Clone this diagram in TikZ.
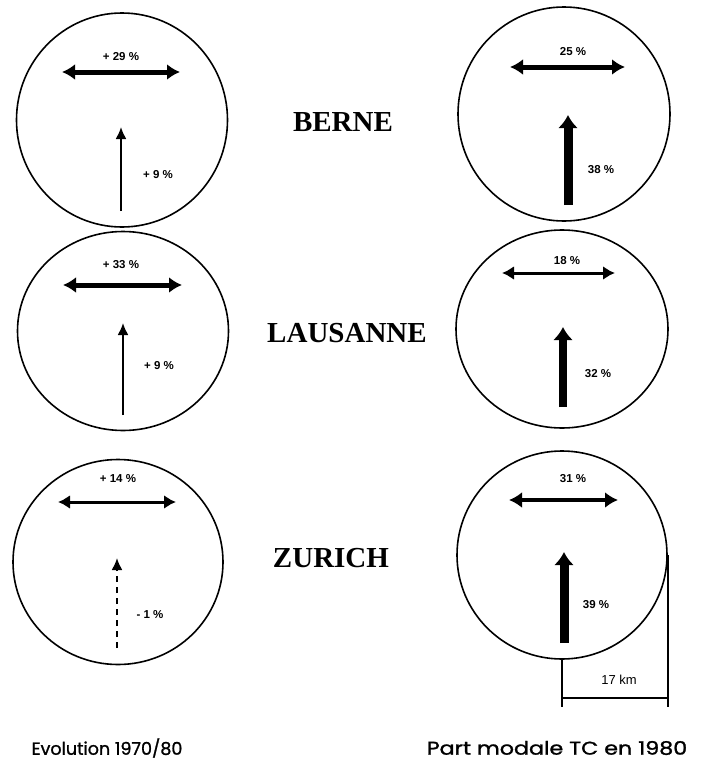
\documentclass[tikz,border=0pt]{standalone}
\usepackage{fontspec}
\setmainfont{Liberation Serif}
\newfontfamily\labfont{Liberation Sans}
\newfontfamily\footfont[FakeBold=1.2]{Poppins}
\usetikzlibrary{arrows.meta,shapes.geometric}
\tikzset{
  ring/.style={draw, ellipse, line width=1.6pt, inner sep=0pt},
  city/.style={font=\fontsize{29}{29}\selectfont\bfseries, inner sep=0pt},
  pct/.style={font=\labfont\bfseries\fontsize{11.5}{11.5}\selectfont, inner sep=0pt},
  foot/.style={font=\footfont\fontsize{17.5}{17.5}\selectfont, inner sep=0pt},
  hthick/.style={line width=5pt, {Latex[length=13pt,width=16pt]}-{Latex[length=13pt,width=16pt]}},
  hmid/.style={line width=3pt, {Latex[length=12pt,width=14pt]}-{Latex[length=12pt,width=14pt]}},
  vthin/.style={line width=2pt, -{Latex[length=12pt,width=11pt]}},
  vfat/.style={line width=9pt, -{Latex[length=13pt,width=20pt]}},
  bar/.style={line width=1.4pt}
}
\begin{document}
\begin{tikzpicture}[x=1pt,y=-1pt]
\useasboundingbox (0,0) rectangle (701,771);
% circles
\node[ring, minimum width=211pt, minimum height=214pt] (c1) at (122,120) {};
\node[ring, minimum width=211pt, minimum height=199pt] (c2) at (123,331) {};
\node[ring, minimum width=210pt, minimum height=205pt] (c3) at (118,562) {};
\node[ring, minimum width=212pt, minimum height=214pt] (c4) at (564,114) {};
\node[ring, minimum width=212pt, minimum height=198pt] (c5) at (562,329) {};
\node[ring, minimum width=210pt, minimum height=208pt] (c6) at (562,555) {};
% city names
\node[city] (berne) at (343,122) {BERNE};
\node[city] (laus) at (347,333) {LAUSANNE};
\node[city] (zur) at (331,558) {ZURICH};
% BERNE left
\coordinate (a1l) at (62,72); \coordinate (a1r) at (180,72);
\draw[hthick] (a1l) -- (a1r);
\node[pct] (t1h) at (121,57) {+ 29 \%};
\coordinate (v1b) at (121,211); \coordinate (v1t) at (121,127);
\draw[vthin] (v1b) -- (v1t);
\node[pct] (t1v) at (158,175) {+ 9 \%};
% BERNE right
\coordinate (a4l) at (510,67); \coordinate (a4r) at (625,67);
\draw[hthick] (a4l) -- (a4r);
\node[pct] (t4h) at (573,52) {25 \%};
\coordinate (v4b) at (568,205); \coordinate (v4t) at (568,115);
\draw[vfat] (v4b) -- (v4t);
\node[pct] (t4v) at (601,170) {38 \%};
% LAUSANNE left
\coordinate (a2l) at (63,285); \coordinate (a2r) at (182,285);
\draw[hthick] (a2l) -- (a2r);
\node[pct] (t2h) at (121,265) {+ 33 \%};
\coordinate (v2b) at (123,415); \coordinate (v2t) at (123,323);
\draw[vthin] (v2b) -- (v2t);
\node[pct] (t2v) at (159,366) {+ 9 \%};
% LAUSANNE right
\coordinate (a5l) at (502,273); \coordinate (a5r) at (615,273);
\draw[hmid] (a5l) -- (a5r);
\node[pct] (t5h) at (567,261) {18 \%};
\coordinate (v5b) at (563,407); \coordinate (v5t) at (563,327);
\draw[vfat, line width=8pt] (v5b) -- (v5t);
\node[pct] (t5v) at (598,374) {32 \%};
% ZURICH left
\coordinate (a3l) at (58,502); \coordinate (a3r) at (176,502);
\draw[hmid] (a3l) -- (a3r);
\node[pct] (t3h) at (118,479) {+ 14 \%};
\coordinate (v3b) at (117,648); \coordinate (v3t) at (117,558);
\draw[vthin, dash pattern=on 6pt off 5pt] (v3b) -- (v3t);
\node[pct] (t3v) at (150,615) {- 1 \%};
% ZURICH right
\coordinate (a6l) at (509,500); \coordinate (a6r) at (618,500);
\draw[hthick, line width=4.5pt] (a6l) -- (a6r);
\node[pct] (t6h) at (573,479) {31 \%};
\coordinate (v6b) at (564,643); \coordinate (v6t) at (564,552);
\draw[vfat] (v6b) -- (v6t);
\node[pct] (t6v) at (596,605) {39 \%};
% scale bar
\coordinate (sbl) at (c6.south |- 0,707);
\coordinate (sbr) at (c6.east |- 0,707);
\coordinate (sbhl) at (c6.south |- 0,698);
\coordinate (sbhr) at (c6.east |- 0,698);
\draw[bar] (c6.south) -- (sbl);
\draw[bar] (c6.east) -- (sbr);
\draw[bar] (sbhl) -- (sbhr);
\node[pct, font=\labfont\fontsize{13}{13}\selectfont] (km) at (619,680) {17 km};
% captions
\node[foot] (f1) at (107,748) {Evolution 1970/80};
\node[foot, font=\footfont\fontsize{18.5}{18.5}\selectfont, xscale=1.2] (f2) at (557,748) {Part modale TC en 1980};
\end{tikzpicture}
\end{document}
